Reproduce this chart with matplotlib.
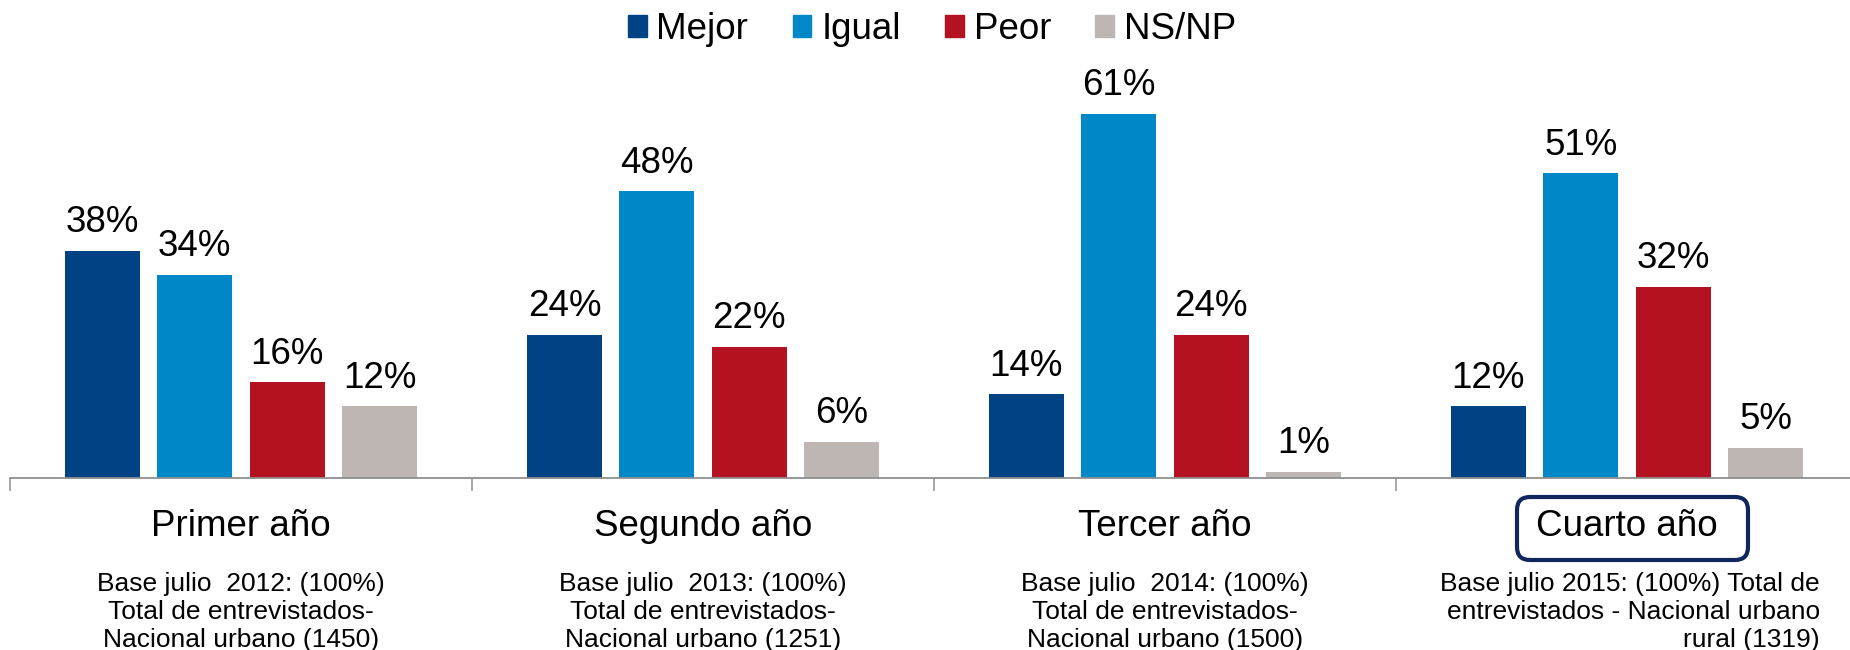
import numpy as np
import matplotlib
matplotlib.use('Agg')
import matplotlib.pyplot as plt
from matplotlib.patches import Patch, FancyBboxPatch
from matplotlib.transforms import blended_transform_factory

plt.rcParams['font.family'] = ['Liberation Sans', 'DejaVu Sans']

categories = ['Primer año', 'Segundo año', 'Tercer año', 'Cuarto año']
series = ['Mejor', 'Igual', 'Peor', 'NS/NP']
mejor = [38, 24, 14, 12]
igual = [34, 48, 61, 51]
peor = [16, 22, 24, 32]
nsnp = [12, 6, 1, 5]
bases = [
    'Base julio  2012: (100%)\nTotal de entrevistados-\nNacional urbano (1450)',
    'Base julio  2013: (100%)\nTotal de entrevistados-\nNacional urbano (1251)',
    'Base julio  2014: (100%)\nTotal de entrevistados-\nNacional urbano (1500)',
    'Base julio 2015: (100%) Total de\nentrevistados - Nacional urbano\nrural (1319)',
]
colors = ['#004385', '#0087c8', '#b41121', '#beb6b3']

W, H = 1850, 650
fig = plt.figure(figsize=(W / 100, H / 100), dpi=100)
ax = fig.add_axes([10 / W, (H - 478) / H, 1848 / W, 418 / H])

x = np.arange(len(categories))
step = 0.2
width = 0.162
for i, (name, vals) in enumerate(zip(series, [mejor, igual, peor, nsnp])):
    pos = x + (i - 1.5) * step
    ax.bar(pos, vals, width, color=colors[i], label=name)
    for px, v in zip(pos, vals):
        ax.annotate(f'{v}%', (px, v), xytext=(0, 13.5), textcoords='offset points',
                    ha='center', va='baseline', fontsize=26.5)

ax.set_xlim(-0.5, 3.5)
ax.set_ylim(0, 70)
for s in ['top', 'right', 'left']:
    ax.spines[s].set_visible(False)
ax.spines['bottom'].set_color('#8f8f8f')
ax.spines['bottom'].set_linewidth(1.3)
ax.set_yticks([])
ax.set_xticks(np.arange(-0.5, 4, 1))
ax.set_xticklabels([])
ax.tick_params(axis='x', direction='out', length=9, width=1.1, color='#8f8f8f')

tr = blended_transform_factory(ax.transData, fig.transFigure)
for i, cat in enumerate(categories):
    ax.text(i, (H - 536) / H, cat, transform=tr, ha='center', va='baseline', fontsize=26.5)
    # multiline baseline alignment uses the last line
    if i < 3:
        ax.text(i, (H - 647) / H, bases[i], transform=tr, ha='center', va='baseline',
                multialignment='center', fontsize=19, linespacing=1.2)
    else:
        fig.text(1820 / W, (H - 647) / H, bases[i], ha='right', va='baseline',
                 multialignment='right', fontsize=19, linespacing=1.2)

# box around the last category
box = FancyBboxPatch((15.17, (H - 560) / 100), 2.31, 0.63,
                     boxstyle='round,pad=0,rounding_size=0.13',
                     transform=fig.dpi_scale_trans, fill=False,
                     edgecolor='#10275e', linewidth=3)
fig.add_artist(box)

handles = [Patch(color=c) for c in colors]
fig.legend(handles, series, loc='center', bbox_to_anchor=(932 / W, 1 - 29.5 / H),
           ncol=4, frameon=False, fontsize=26.5, handlelength=0.51, handleheight=0.51,
           handletextpad=0.27, columnspacing=1.2, borderpad=0)

fig.savefig('out.png', dpi=100)
